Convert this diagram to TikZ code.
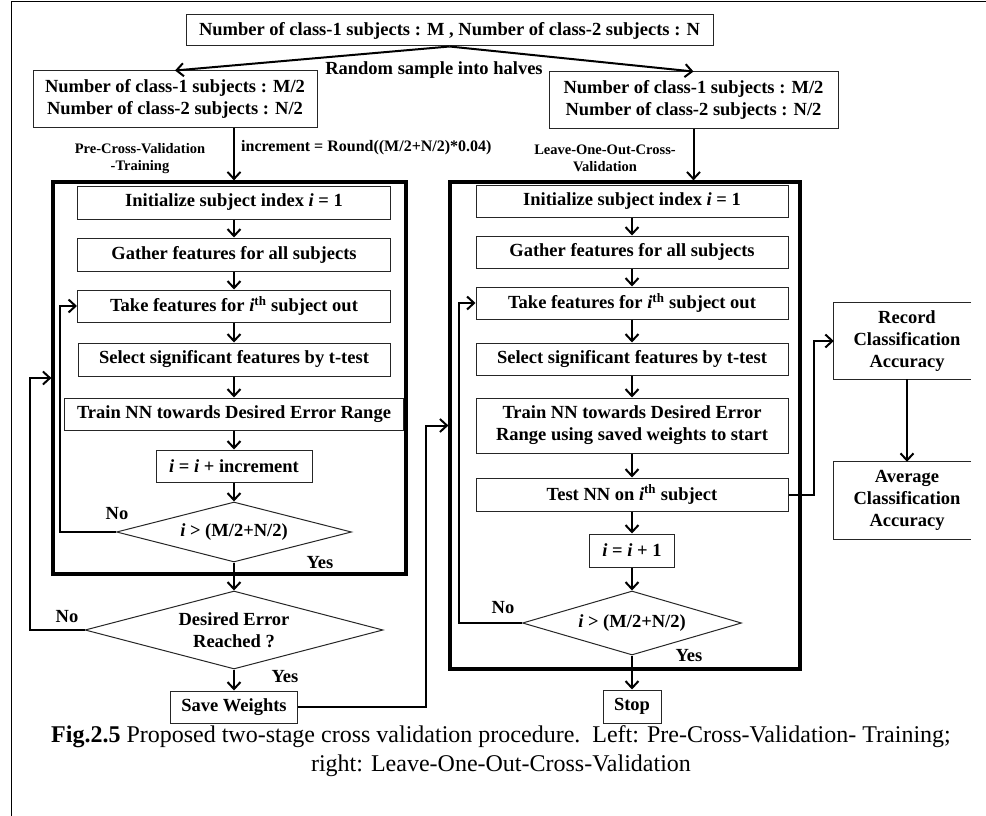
\documentclass[tikz,border=0pt]{standalone}
\usepackage{fontspec}
\setmainfont{Liberation Serif}
\usetikzlibrary{shapes.geometric,arrows.meta}
\newcommand\fntB{\fontsize{18.5}{22}\selectfont\bfseries}
\newcommand\fntS{\fontsize{14.5}{17}\selectfont\bfseries}
\newcommand\fntI{\fontsize{16}{19}\selectfont\bfseries}
\newcommand\fntC{\fontsize{24}{29}\selectfont}
\begin{document}
\begin{tikzpicture}[x=1pt,y=-1pt,
  box/.style={draw=black!85,line width=1pt,inner sep=0pt,align=center,font=\fntB},
  decbox/.style={diamond,draw=black!85,line width=1pt,inner sep=0pt,align=center,font=\fntB},
  framebox/.style={draw=black,line width=3.2pt,inner sep=0pt},
  arr/.style={-{Straight Barb[length=7pt,width=13pt]},line width=2pt,black},
  lbl/.style={inner sep=0pt,align=center,font=\fntB},
  openbox/.style={draw=black!85,line width=1pt}
]
\useasboundingbox (0,0) rectangle (986,816);
\fill[white] (0,0) rectangle (986,816);
\draw[line width=1.5pt] (986,1.5) -- (11.5,1.5) -- (11.5,816);

% frames
\node[framebox,minimum width=353pt,minimum height=392pt] (lframe) at (229.5,378) {};
\node[framebox,minimum width=350pt,minimum height=487pt] (rframe) at (625,425.5) {};

% top
\node[box,minimum width=527pt,minimum height=31pt] (top) at (449.5,30.5) {Number of class-1 subjects : M , Number of class-2 subjects : N};
\node[box,minimum width=284pt,minimum height=56pt] (lbox) at (175,99) {Number of class-1 subjects : M/2\\Number of class-2 subjects : N/2};
\node[box,minimum width=289pt,minimum height=56pt] (rbox) at (693.5,100) {Number of class-1 subjects : M/2\\Number of class-2 subjects : N/2};

% left column
\node[box,minimum width=313pt,minimum height=33pt] (linit) at (234,202.5) {Initialize subject index \textit{i} = 1};
\node[box,minimum width=313pt,minimum height=33pt] (lgather) at (234,254.5) {Gather features for all subjects};
\node[box,minimum width=313pt,minimum height=32pt] (ltake) at (234,306) {Take features for \textit{i}\textsuperscript{th} subject out};
\node[box,minimum width=312pt,minimum height=33pt] (lselect) at (234,359.5) {Select significant features by t-test};
\node[box,minimum width=339pt,minimum height=32pt] (ltrain) at (234,414) {Train NN towards Desired Error Range};
\node[box,minimum width=156pt,minimum height=32pt] (linc) at (234,466) {\textit{i} = \textit{i} + increment};
\node[decbox,aspect=3.9,minimum width=235pt,minimum height=60pt] (ldec) at (234,532) {\textit{i} > (M/2+N/2)};
\node[decbox,aspect=3.8,minimum width=298pt,minimum height=78pt] (lerr) at (234,630) {Desired Error\\Reached ?};
\node[box,minimum width=127pt,minimum height=32pt] (save) at (234,707) {Save Weights};

% right column
\node[box,minimum width=312pt,minimum height=32pt] (rinit) at (632,201) {Initialize subject index \textit{i} = 1};
\node[box,minimum width=312pt,minimum height=32pt] (rgather) at (632,252) {Gather features for all subjects};
\node[box,minimum width=312pt,minimum height=32pt] (rtake) at (632,303) {Take features for \textit{i}\textsuperscript{th} subject out};
\node[box,minimum width=312pt,minimum height=32pt] (rselect) at (632,359) {Select significant features by t-test};
\node[box,minimum width=312pt,minimum height=55pt] (rtrain) at (632,425.5) {Train NN towards Desired Error\\Range using saved weights to start};
\node[box,minimum width=312pt,minimum height=33pt] (rtest) at (632,494.5) {Test NN on \textit{i}\textsuperscript{th} subject};
\node[box,minimum width=85pt,minimum height=33pt] (rinc) at (632,550.5) {\textit{i} = \textit{i} + 1};
\node[decbox,aspect=3.4,minimum width=219pt,minimum height=64pt] (rdec) at (632,623) {\textit{i} > (M/2+N/2)};
\node[box,minimum width=58pt,minimum height=33pt] (stop) at (632,706.5) {Stop};

% far right (clipped boxes)
\node[lbl,minimum width=146pt,minimum height=76pt] (rec) at (907,341) {Record\\Classification\\Accuracy};
\draw[openbox] ([xshift=-9pt]rec.north east) -- (rec.north west) -- (rec.south west) -- ([xshift=-9pt]rec.south east);
\node[lbl,minimum width=146pt,minimum height=77pt] (avg) at (907,500.5) {Average\\Classification\\Accuracy};
\draw[openbox] ([xshift=-9pt]avg.north east) -- (avg.north west) -- (avg.south west) -- ([xshift=-9pt]avg.south east);

% labels
\node[lbl] (rs) at (434,70) {Random sample into halves};
\node[lbl,font=\fntI,anchor=west] (incl) at (241,148) {increment = Round((M/2+N/2)*0.04)};
\node[lbl,font=\fntS] (pcv) at (140,158.5) {Pre-Cross-Validation\\-Training};
\node[lbl,font=\fntS] (loo) at (605,158.5) {Leave-One-Out-Cross-\\Validation};
\node[lbl] (no1) at (117,514) {No};
\node[lbl] (yes1) at (320,563) {Yes};
\node[lbl] (no2) at (67,617) {No};
\node[lbl] (yes2) at (285,677) {Yes};
\node[lbl] (no3) at (503,608) {No};
\node[lbl] (yes3) at (689,656) {Yes};

\node[inner sep=0pt,align=center,font=\fntC] (cap) at (501,751.5) {\textbf{Fig.2.5} Proposed two-stage cross validation procedure.\ \ Left: Pre-Cross-Validation- Training;\\right: Leave-One-Out-Cross-Validation};

% connectors
\draw[arr] (top.south) -- (lbox.north);
\draw[arr] (top.south) -- (rbox.north);
\draw[arr] (lbox.south -| linit.north) -- (linit.north |- lframe.north);
\draw[arr] (rbox.south) -- (rbox.south |- rframe.north);

\draw[arr] (linit) -- (lgather);
\draw[arr] (lgather) -- (ltake);
\draw[arr] (ltake) -- (lselect);
\draw[arr] (lselect) -- (ltrain);
\draw[arr] (ltrain) -- (linc);
\draw[arr] (linc) -- (ldec);
\draw[arr] (ldec.west) -- ++(-56,0) |- (ltake.west);
\draw[arr] (ldec) -- (lerr);
\draw[arr] (lerr.west) -- ++(-55,0) |- (lframe.west);
\draw[arr] (lerr) -- (save);
\draw[arr] (save.east) -- ++(127.5,0) |- (rframe.west |- rtrain.west);

\draw[arr] (rinit) -- (rgather);
\draw[arr] (rgather) -- (rtake);
\draw[arr] (rtake) -- (rselect);
\draw[arr] (rselect) -- (rtrain);
\draw[arr] (rtrain) -- (rtest);
\draw[arr] (rtest) -- (rinc);
\draw[arr] (rinc) -- (rdec);
\draw[arr] (rdec.west) -- ++(-63.5,0) |- (rtake.west);
\draw[arr] (rdec) -- (stop);
\draw[arr] (rtest.east) -- ++(25,0) |- (rec.west);
\draw[arr] (rec) -- (avg);
\end{tikzpicture}
\end{document}
